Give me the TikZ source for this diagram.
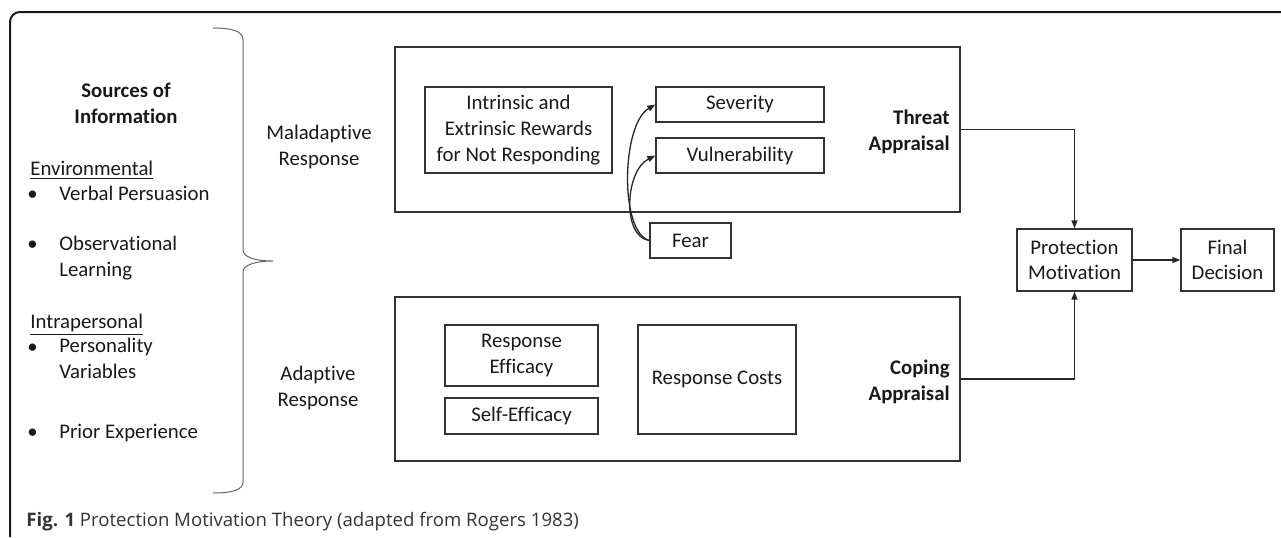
\documentclass[tikz,border=0pt]{standalone}
\usepackage{fontspec}
\setmainfont{Carlito}[Ligatures=NoCommon]
\newfontfamily\captionfont{Open Sans}
\usetikzlibrary{arrows.meta}

\begin{document}
\begin{tikzpicture}[
    x=0.5pt, y=-0.5pt,
    every node/.style={align=center, text=black!90, font=\fontsize{10.4}{12.8}\selectfont},
    panel/.style={rectangle, draw=black!80, line width=0.65pt, inner sep=0pt},
    box/.style={rectangle, draw=black!80, line width=0.65pt, inner sep=0pt},
    side/.style={anchor=base west, inner sep=0pt, align=left},
    centred/.style={anchor=base, inner sep=0pt},
    appraisal/.style={anchor=base east, inner sep=0pt, align=right, font=\fontsize{10.4}{12.8}\selectfont\bfseries},
    link/.style={-{Triangle[length=4pt, width=3pt]}, draw=black!85, line width=0.65pt}
]
    \useasboundingbox (0,0) rectangle (1281,537);

    % Outer frame
    \draw[black!90, line width=1pt, rounded corners=5pt] (1281,12) -- (10,12) -- (10,537);

    % Sources of information
    \node[centred, font=\fontsize{10.4}{12.8}\selectfont\bfseries] (sources) at (126,123) {Sources of\\Information};
    \node[side] (environmental) at (30,175) {\underline{Environmental}};
    \node[side] (bullet1) at (27,200) {\textbullet};
    \node[side] (verbal) at (59,200) {Verbal Persuasion};
    \node[side] (bullet2) at (27,250) {\textbullet};
    \node[side] (observational) at (59,276) {Observational\\Learning};
    \node[side] (intrapersonal) at (30,328) {\underline{Intrapersonal}};
    \node[side] (bullet3) at (27,353) {\textbullet};
    \node[side] (personality) at (59,378) {Personality\\Variables};
    \node[side] (bullet4) at (27,438) {\textbullet};
    \node[side] (prior) at (59,438) {Prior Experience};

    % Brace
    \coordinate (bracetop) at (213,28);
    \coordinate (bracetip) at (273,261);
    \coordinate (bracebot) at (213,493);
    \draw[black!60, line width=0.5pt] (bracetop) .. controls (232,28) and (243,31) .. (243,40)
        -- (243,250) .. controls (243,257) and (255,261) .. (bracetip)
        .. controls (255,261) and (243,265) .. (243,272)
        -- (243,482) .. controls (243,490) and (232,493) .. (bracebot);

    % Responses
    \node[centred] (maladaptive) at (319,165) {Maladaptive\\Response};
    \node[centred] (adaptive) at (318,406) {Adaptive\\Response};

    % Appraisal panels
    \node[panel, minimum width=282.5pt, minimum height=82.5pt] (threat) at (677.5,129.5) {};
    \node[panel, minimum width=282.5pt, minimum height=82pt] (coping) at (677.5,379) {};
    \node[appraisal] (threatlabel) at (950,150) {Threat\\Appraisal};
    \node[appraisal] (copinglabel) at (950,400) {Coping\\Appraisal};

    % Threat appraisal boxes
    \node[box, minimum width=93.5pt, minimum height=43pt] (rewards) at (518.5,130) {Intrinsic and\\Extrinsic Rewards\\for Not Responding};
    \node[box, minimum width=84pt, minimum height=17.5pt] (severity) at (740,104.5) {Severity};
    \node[box, minimum width=84pt, minimum height=17.5pt] (vulnerability) at (740,155.5) {Vulnerability};
    \node[box, minimum width=40.5pt, minimum height=17.5pt] (fear) at (690.5,240.5) {Fear};

    % Coping appraisal boxes
    \node[box, minimum width=76.5pt, minimum height=30.5pt] (efficacy) at (521.5,355.5) {Response\\Efficacy};
    \node[box, minimum width=76.5pt, minimum height=18pt] (selfefficacy) at (521.5,416) {Self-Efficacy};
    \node[box, minimum width=79pt, minimum height=54.5pt] (costs) at (717,379.5) {Response Costs};

    % Outcome boxes
    \node[box, minimum width=57.5pt, minimum height=31pt] (protection) at (1074.5,260) {Protection\\Motivation};
    \node[box, minimum width=46.5pt, minimum height=31pt] (decision) at (1227.5,260) {Final\\Decision};

    % Connections
    \draw[link] (fear.west) .. controls +(-30,-8) and +(-34,20) .. (severity.west);
    \draw[link] (fear.west) .. controls +(-28,-4) and +(-30,15) .. (vulnerability.west);
    \draw[link] (threat.east) -| (protection.north);
    \draw[link] (coping.east) -| (protection.south);
    \draw[link] (protection) -- (decision);

    % Caption
    \node[side, text=black!80, font=\captionfont\fontsize{9.3}{12}\selectfont] (caption) at (26,526) {\textbf{Fig. 1} Protection Motivation Theory (adapted from Rogers 1983)};
\end{tikzpicture}
\end{document}
